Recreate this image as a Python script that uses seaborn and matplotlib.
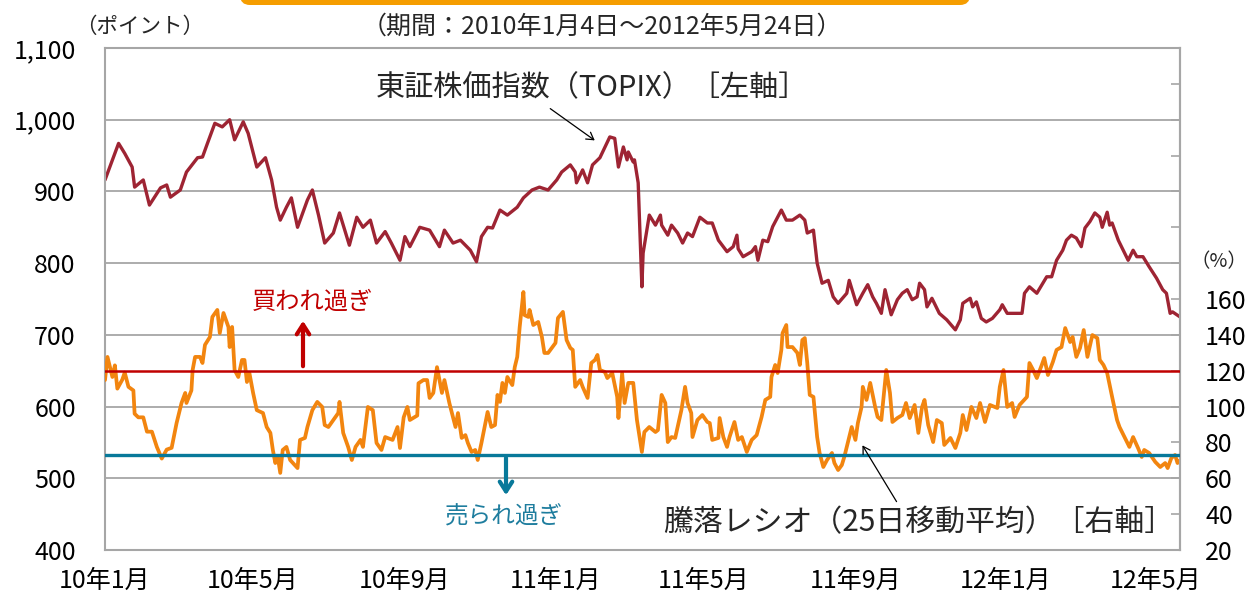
import numpy as np
import pandas as pd
import matplotlib
matplotlib.use("Agg")
import matplotlib.pyplot as plt
import seaborn as sns
from matplotlib.patches import FancyBboxPatch, FancyArrowPatch

# ---------------- data ----------------
START = "2010-01-04"
END = "2012-05-24"

# TOPIX: day offsets from START and index values
topix_day = [0, 6, 11, 16, 22, 24, 31, 36, 45, 50,
             53, 61, 66, 75, 79, 83, 89, 95, 101, 105,
             112, 116, 123, 130, 135, 139, 142, 147, 151, 156,
             164, 168, 173, 178, 185, 190, 198, 204, 209, 215,
             220, 227, 232, 239, 243, 247, 255, 263, 271, 275,
             282, 288, 296, 301, 305, 310, 314, 320, 326, 334,
             339, 346, 352, 359, 366, 370, 377, 381, 382, 387,
             391, 395, 401, 409, 413, 416, 420, 423, 424, 428,
             429, 432, 435, 436, 441, 446, 450, 451, 456, 459,
             464, 468, 472, 476, 482, 488, 492, 497, 504, 509,
             512, 513, 517, 524, 527, 529, 533, 537, 541, 548,
             552, 557, 563, 567, 569, 574, 577, 581, 586, 590,
             594, 601, 603, 609, 614, 618, 622, 625, 629, 632,
             637, 642, 646, 650, 654, 658, 660, 664, 666, 670,
             676, 682, 689, 693, 695, 701, 703, 706, 710, 714,
             719, 725, 727, 731, 739, 743, 745, 749, 755, 763,
             767, 771, 776, 779, 783, 787, 791, 794, 798, 802,
             806, 808, 812, 814, 816, 821, 825, 829, 833, 836,
             841, 846, 852, 857, 860, 863, 865, 871]
topix_val = [916, 944, 967, 953, 934, 906, 916, 881, 905, 909,
             892, 902, 927, 947, 948, 967, 995, 990, 1000, 972,
             997, 981, 934, 947, 916, 878, 860, 878, 891, 850,
             888, 902, 867, 828, 842, 870, 825, 864, 850, 860,
             828, 844, 828, 804, 837, 823, 850, 846, 823, 846,
             828, 832, 818, 802, 837, 850, 849, 874, 867, 878,
             891, 902, 906, 902, 916, 927, 937, 927, 912, 930,
             912, 937, 947, 976, 974, 934, 962, 944, 955, 941,
             944, 912, 767, 814, 867, 853, 867, 853, 839, 853,
             842, 828, 842, 837, 864, 856, 856, 832, 816, 823,
             839, 820, 809, 816, 823, 804, 832, 830, 851, 874,
             860, 860, 867, 860, 842, 846, 800, 772, 776, 753,
             744, 758, 776, 742, 758, 770, 753, 744, 730, 763,
             728, 749, 758, 763, 749, 753, 772, 763, 739, 751,
             730, 721, 707, 721, 744, 751, 739, 746, 723, 718,
             723, 735, 742, 730, 730, 730, 758, 767, 758, 781,
             781, 804, 818, 832, 839, 835, 823, 849, 858, 870,
             864, 850, 871, 853, 856, 832, 818, 804, 818, 809,
             809, 795, 779, 763, 758, 730, 732, 725]

# Advance/decline ratio (25-day MA), %: day offsets and values
ratio_day = [0, 2, 6, 8, 10, 14, 16, 19, 23, 24,
             27, 31, 34, 38, 42, 46, 50, 54, 58, 62,
             65, 66, 70, 71, 73, 77, 79, 81, 85, 87,
             91, 93, 96, 100, 101, 103, 105, 108, 111, 113,
             115, 117, 120, 123, 128, 131, 134, 136, 138, 140,
             142, 144, 147, 150, 156, 158, 162, 164, 168, 172,
             176, 178, 181, 185, 189, 190, 193, 197, 200, 203,
             207, 209, 213, 217, 220, 224, 227, 233, 237, 239,
             242, 245, 247, 253, 254, 258, 261, 263, 266, 269,
             273, 275, 279, 284, 286, 289, 292, 294, 297, 300,
             302, 305, 310, 313, 316, 318, 320, 322, 324, 326,
             330, 332, 334, 336, 339, 340, 343, 344, 347, 351,
             354, 356, 359, 365, 367, 371, 374, 377, 379, 381,
             385, 387, 391, 394, 397, 399, 401, 405, 407, 411,
             415, 416, 419, 421, 424, 428, 431, 435, 437, 441,
             446, 448, 451, 454, 456, 459, 462, 464, 467, 470,
             472, 475, 476, 480, 484, 488, 490, 492, 497, 498,
             501, 504, 506, 510, 513, 516, 520, 524, 528, 532,
             535, 539, 540, 543, 545, 548, 549, 552, 553, 557,
             561, 563, 565, 567, 569, 571, 574, 577, 579, 582,
             585, 589, 591, 594, 597, 599, 602, 605, 608, 610,
             613, 614, 617, 620, 624, 626, 629, 633, 636, 638,
             642, 646, 649, 652, 656, 659, 662, 664, 667, 671,
             674, 678, 680, 685, 689, 693, 695, 698, 702, 706,
             709, 713, 717, 723, 725, 728, 731, 735, 737, 741,
             747, 749, 752, 755, 759, 761, 764, 768, 771, 775,
             778, 782, 784, 787, 790, 793, 796, 800, 804, 806,
             809, 812, 816, 820, 822, 826, 830, 833, 837, 840,
             842, 846, 851, 855, 859, 861, 864, 867, 869, 871]
ratio_val = [114.8, 127.7, 116.5, 123, 110, 115, 119, 111, 109, 96,
             94, 94, 86, 86, 77.5, 71, 76, 77, 90.8, 102,
             107.6, 102, 109, 120.4, 127.7, 127.7, 124.3, 134.4, 138.8, 150,
             153.9, 141, 152.2, 144.4, 133.2, 144.4, 120.4, 116.5, 126, 126,
             113.7, 118.7, 107.6, 98, 96.4, 88.6, 85.3, 75.8, 68.5, 71.9,
             63, 75.8, 77.5, 70.2, 65.7, 81.4, 82.5, 88.6, 98, 102.6,
             99.8, 89.7, 88.6, 92.5, 96.4, 102.6, 85.3, 77.5, 70.2, 77.5,
             81.4, 77.5, 99.8, 98, 79.7, 75.8, 83, 81.4, 88.6, 76.9,
             94, 99.8, 92.5, 95, 113, 114.8, 114.8, 104.8, 107.6, 122,
             107.6, 114.8, 102, 88.6, 96.4, 82.5, 84.1, 79.7, 74.7, 75.8,
             70.2, 79.7, 97, 88.6, 89.7, 106.5, 102.6, 113.2, 107.6, 116.5,
             112, 122, 127.7, 144.4, 163.9, 151, 150, 153.9, 145.5, 147.2,
             138.8, 129.9, 129.9, 135.5, 149.4, 152.8, 137.1, 132.7, 131.6, 111,
             114.8, 111, 104.8, 124.3, 126, 128.8, 120.4, 119.3, 115.9, 118.7,
             105.4, 93.6, 118.7, 102, 113.2, 113.2, 92.5, 74.7, 85.8, 88.6,
             85.8, 86.9, 106.5, 102, 80.2, 83, 82.5, 88.6, 98, 111,
             102, 96.4, 83, 92.5, 95.3, 91.4, 90.8, 81.4, 82.5, 93.6,
             83, 77.5, 83, 91.4, 81.4, 83, 74.7, 81.4, 84.1, 94.2,
             103.7, 105.4, 116.5, 123.2, 118.7, 131.6, 141, 145.5, 133.2, 133.2,
             129.9, 123.2, 137.1, 138.2, 124.3, 106.5, 105.4, 83, 74.1, 66.3,
             70.2, 74.1, 68.5, 64.6, 67.4, 71.9, 80.2, 88.6, 81.4, 90.8,
             99.8, 111, 103.7, 113.2, 99.8, 94.2, 92.5, 120.4, 107.6, 91.4,
             93.6, 95.3, 102, 93.6, 100.9, 85.3, 99.8, 103.7, 89.7, 80.2,
             92.5, 90.8, 78.6, 82.5, 76.9, 85.3, 95.3, 86.9, 99.8, 93.6,
             102, 91.4, 100.9, 99.2, 111, 120.4, 99.8, 102, 94.2, 100.9,
             105.4, 124.3, 120.4, 115.9, 123.2, 127.1, 117.6, 124.9, 131.6, 133.2,
             143.8, 136, 138.8, 127.7, 132.7, 142.7, 127.7, 139.9, 138.2, 126,
             123.2, 118.7, 105.4, 92.5, 88.6, 83, 77.5, 83, 76.9, 71.9,
             75.8, 74.1, 69.1, 66.3, 68.5, 65.7, 71.3, 73, 68.5, 70]

overbought_level = 120
oversold_level = 73

x_tick_dates = ["2010-01-04", "2010-05-04", "2010-09-04", "2011-01-04",
                "2011-05-04", "2011-09-04", "2012-01-04", "2012-05-04"]
x_tick_labels = ["10年1月", "10年5月", "10年9月", "11年1月",
                 "11年5月", "11年9月", "12年1月", "12年5月"]
left_ticks = [400, 500, 600, 700, 800, 900, 1000, 1100]
left_tick_labels = ["400", "500", "600", "700", "800", "900", "1,000", "1,100"]
right_ticks = [20, 40, 60, 80, 100, 120, 140, 160, 180, 200, 220, 240, 260, 280, 300]
right_tick_labels = ["20", "40", "60", "80", "100", "120", "140", "160",
                     "", "", "", "", "", "", ""]

# ---------------- styling ----------------
sns.set_theme(style="white")
plt.rcParams["font.family"] = ["Noto Sans CJK JP", "DejaVu Sans"]

W, H = 1248, 599
fig = plt.figure(figsize=(W / 100, H / 100), dpi=100)
fig.patch.set_facecolor("white")

def fx(px):
    return px / W

def fy(py):
    return 1 - py / H

ax = fig.add_axes([fx(105), fy(550), fx(1180) - fx(105), fy(48) - fy(550)])

start = pd.Timestamp(START)
topix_df = pd.DataFrame({"date": start + pd.to_timedelta(topix_day, unit="D"),
                         "value": topix_val})
ratio_df = pd.DataFrame({"date": start + pd.to_timedelta(ratio_day, unit="D"),
                         "value": ratio_val})

GRID = "#A6A6A6"
sns.lineplot(data=topix_df, x="date", y="value", ax=ax, color="#9E2433",
             lw=2.4, estimator=None, legend=False)

ax2 = ax.twinx()
sns.lineplot(data=ratio_df, x="date", y="value", ax=ax2, color="#F2850F",
             lw=2.7, estimator=None, legend=False)
ax2.axhline(overbought_level, color="#C00000", lw=1.8, zorder=5)
ax2.axhline(oversold_level, color="#08799A", lw=2.4, zorder=5)

ax.set_ylim(400, 1100)
ax.set_xlim(pd.Timestamp(START), pd.Timestamp(END))
ax.set_yticks(left_ticks)
ax.set_yticklabels(left_tick_labels)
ax.set_xticks(pd.to_datetime(x_tick_dates))
ax.set_xticklabels(x_tick_labels)
ax.yaxis.grid(True, color=GRID, lw=1.3)
ax.xaxis.grid(False)
ax.set_xlabel("")
ax.set_ylabel("")
ax.tick_params(axis="y", which="major", left=True, length=0, pad=21,
               labelsize=18, labelcolor="black")
ax.tick_params(axis="x", direction="out", length=5, width=1.2, color=GRID,
               pad=8, labelsize=18, labelcolor="black")
for side in ["left", "bottom", "top", "right"]:
    ax.spines[side].set_color(GRID)
    ax.spines[side].set_linewidth(1.5)

ax2.set_ylim(20, 300)
ax2.set_yticks(right_ticks)
ax2.set_yticklabels(right_tick_labels)
ax2.set_ylabel("")
ax2.set_xlabel("")
ax2.tick_params(axis="y", direction="in", length=6.5, width=1.2, color=GRID,
                pad=18, labelsize=18, labelcolor="black")
for side in ["left", "bottom", "top"]:
    ax2.spines[side].set_visible(False)
ax2.spines["right"].set_color(GRID)
ax2.spines["right"].set_linewidth(1.5)
ax2.grid(False)

# ---------------- texts & annotations ----------------
hdr = FancyBboxPatch((fx(240), fy(5)), fx(970) - fx(240), 0.05,
                     boxstyle="round,pad=0,rounding_size=0.008",
                     mutation_aspect=W / H, transform=fig.transFigure,
                     fc="#F59D00", ec="none", clip_on=False)
fig.patches.append(hdr)

fig.text(fx(75), fy(27), "（ポイント）", fontsize=15.5, ha="left", va="center")
fig.text(fx(602), fy(27), "（期間：2010年1月4日～2012年5月24日）", fontsize=18,
         ha="center", va="center")
fig.text(fx(592), fy(88), "東証株価指数（TOPIX）［左軸］", fontsize=21,
         ha="center", va="center")
fig.text(fx(919), fy(523), "騰落レシオ（25日移動平均）［右軸］", fontsize=21.5,
         ha="center", va="center")
fig.text(fx(312), fy(302), "買われ過ぎ", fontsize=17.5, color="#C00000",
         ha="center", va="center")
fig.text(fx(504), fy(517), "売られ過ぎ", fontsize=17, color="#1E7D9E",
         ha="center", va="center")
fig.text(fx(1247), fy(262), "（%）", fontsize=14, ha="right", va="center")

# overbought / oversold arrows
fig.add_artist(FancyArrowPatch(
    (fx(303), fy(369)), (fx(303), fy(318)), transform=fig.transFigure,
    arrowstyle="->,head_length=7,head_width=4.5", color="#C00000", lw=3))
fig.add_artist(FancyArrowPatch(
    (fx(506), fy(455)), (fx(506), fy(498)), transform=fig.transFigure,
    arrowstyle="->,head_length=7,head_width=4.5", color="#08799A", lw=3))

# label pointer arrows
fig.add_artist(FancyArrowPatch(
    (fx(548), fy(107)), (fx(597), fy(142)), transform=fig.transFigure,
    arrowstyle="->,head_length=5,head_width=3", color="black", lw=0.9))
fig.add_artist(FancyArrowPatch(
    (fx(898), fy(504)), (fx(861), fy(443)), transform=fig.transFigure,
    arrowstyle="->,head_length=5,head_width=3", color="black", lw=0.9))

fig.savefig("out.png", dpi=100)
